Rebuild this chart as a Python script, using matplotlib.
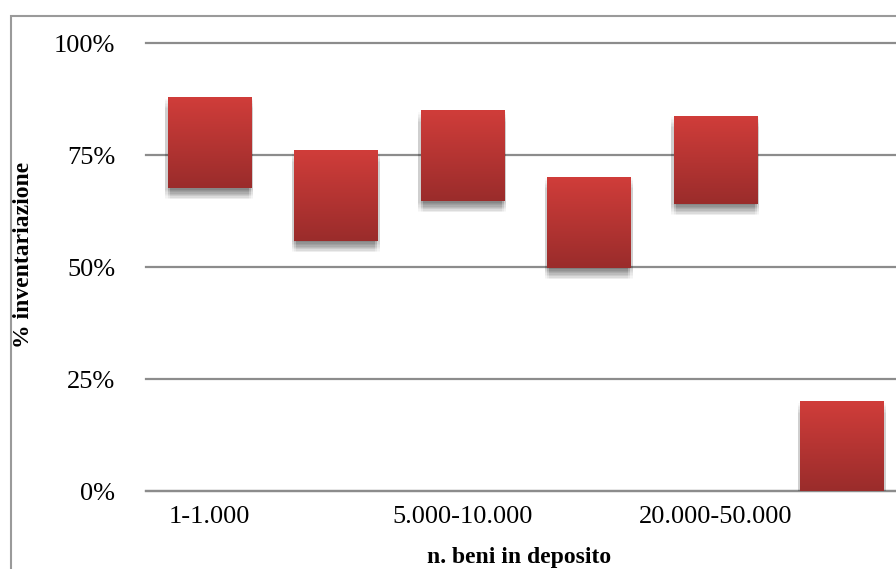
#!/usr/bin/env python3
"""Floating bars: % inventariazione by n. beni in deposito."""

import numpy as np
import matplotlib
matplotlib.use("Agg")
from matplotlib import pyplot as plt
from matplotlib import patheffects as pe
from matplotlib.colors import LinearSegmentedColormap
from matplotlib.patches import Rectangle
from matplotlib.ticker import FixedLocator, FuncFormatter

categories = ["1-1.000", "1.000-5.000", "5.000-10.000",
              "10.000-20.000", "20.000-50.000", ">50.000"]
low = [0.676, 0.558, 0.647, 0.498, 0.641, 0.0]
high = [0.879, 0.759, 0.848, 0.701, 0.837, 0.199]
yticks = [0, 0.25, 0.5, 0.75, 1.0]

plt.rcParams["font.family"] = ["Liberation Serif", "DejaVu Serif"]

W, H = 896, 569
fig = plt.figure(figsize=(W / 100, H / 100), dpi=100)

# outer chart frame (only the left and top edges are visible in the crop)
fig.patches.append(Rectangle((11 / W, -0.1), 1.2, (H - 16) / H + 0.1,
                             transform=fig.transFigure, fill=False,
                             edgecolor="#9a9a9a", linewidth=1.5))

ax = fig.add_axes([146 / W, 78 / H, (905 - 146) / W, (491 - 43) / H])
ax.set_facecolor("none")

x = np.arange(len(categories))
heights = [h - l for l, h in zip(low, high)]
# soft drop shadow built from a few stacked, offset copies
shadow = [pe.SimplePatchShadow(offset=(dx, -d), shadow_rgbFace="#000000", alpha=0.025)
          for d in range(1, 9) for dx in (-1.5, 0, 1.5)]
bars = ax.bar(x, heights, bottom=low, width=0.66, color="#b83532",
              zorder=3, path_effects=shadow + [pe.Normal()])

cmap = LinearSegmentedColormap.from_list("bar", ["#9a2c2b", "#d03d3a"])
grad = np.linspace(0, 1, 256).reshape(-1, 1)
for p in bars:
    x0, y0, w, h = p.get_x(), p.get_y(), p.get_width(), p.get_height()
    ax.imshow(grad, cmap=cmap, origin="lower", aspect="auto",
              extent=(x0, x0 + w, y0, y0 + h), zorder=4)

ax.set_xlim(-0.5, len(categories) - 0.5)
ax.set_ylim(0, 1.0)

ax.yaxis.set_major_locator(FixedLocator(yticks))
ax.yaxis.set_major_formatter(FuncFormatter(lambda v, _: f"{v:.0%}"))
ax.yaxis.grid(True, color="#8c8c8c", linewidth=1.6)
for gl in ax.get_ygridlines():
    gl.set_clip_on(False)
ax.set_axisbelow(True)

ax.set_xticks(x)
ax.set_xticklabels([c if i % 2 == 0 else "" for i, c in enumerate(categories)])
ax.tick_params(axis="y", length=0, pad=22, labelsize=19)
ax.tick_params(axis="x", length=0, pad=11, labelsize=19)

for s in ["top", "right", "left"]:
    ax.spines[s].set_visible(False)
ax.spines["bottom"].set_color("#8c8c8c")
ax.spines["bottom"].set_linewidth(1.6)

fig.text(24 / W, 1 - 255 / H, "% inventariazione", rotation=90,
         ha="center", va="center", fontsize=17, fontweight="bold")
fig.text(519 / W, 1 - 557 / H, "n. beni in deposito",
         ha="center", va="center", fontsize=17, fontweight="bold")

fig.savefig("out.png", dpi=100)
